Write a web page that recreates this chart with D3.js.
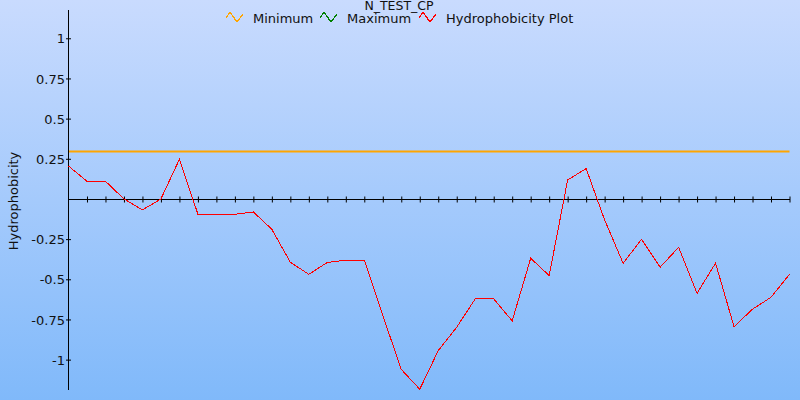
<!DOCTYPE html>
<html>
<head>
<meta charset="utf-8">
<script src="https://cdn.jsdelivr.net/npm/d3@7"></script>
<style>
  html, body { margin: 0; padding: 0; }
  svg { display: block; font-family: "DejaVu Sans", Verdana, sans-serif; }
</style>
</head>
<body>
<svg id="chart" width="800" height="400"></svg>
<script>
// ---- data ----
const title = "N_TEST_CP";
const yLabel = "Hydrophobicity";
const seriesNames = ["Minimum", "Maximum", "Hydrophobicity Plot"];
const seriesColors = ["#ffa500", "#008000", "#ff0000"];
const minimumValue = 0.3;
const hydrophobicity = [
  0.205, 0.110, 0.110, 0.000, -0.068, 0.000, 0.247, -0.095, -0.095, -0.095,
  -0.081, -0.189, -0.394, -0.469, -0.395, -0.381, -0.381, -0.725, -1.061, -1.184,
  -0.944, -0.798, -0.622, -0.622, -0.759, -0.369, -0.477, 0.118, 0.189, -0.131,
  -0.400, -0.251, -0.425, -0.301, -0.587, -0.400, -0.795, -0.686, -0.612, -0.469
];
const yTickValues = [1, 0.75, 0.5, 0.25, -0.25, -0.5, -0.75, -1];
const yTickLabels = ["1", "0.75", "0.5", "0.25", "-0.25", "-0.5", "-0.75", "-1"];
const yDomain = [-1.189, 1.176];

// ---- layout ----
const W = 800, H = 400;
const plot = { left: 68.5, right: 789.5, top: 10, bottom: 390 };

const svg = d3.select("#chart");

const defs = svg.append("defs");
const grad = defs.append("linearGradient").attr("id", "bg")
  .attr("x1", 0).attr("y1", 0).attr("x2", 0).attr("y2", 1);
grad.append("stop").attr("offset", "0%").attr("stop-color", "#c9dbfe");
grad.append("stop").attr("offset", "100%").attr("stop-color", "#80b9fa");
svg.append("rect").attr("width", W).attr("height", H).attr("fill", "url(#bg)");

const x = d3.scaleLinear().domain([0, hydrophobicity.length - 1]).range([plot.left, plot.right]);
const y = d3.scaleLinear().domain(yDomain).range([plot.bottom, plot.top]);
const y0 = Math.round(y(0)) + 0.5;

// minimum line
const yMin = Math.round(y(minimumValue));
svg.append("rect")
  .attr("x", x(0)).attr("width", x(hydrophobicity.length - 1) - x(0))
  .attr("y", yMin - 0.5).attr("height", 2)
  .attr("fill", seriesColors[0]);

// x axis along zero
const xAxis = d3.axisBottom(x)
  .tickValues(d3.range(1, hydrophobicity.length))
  .tickSize(0).tickFormat("");
const gx = svg.append("g").attr("transform", `translate(0,${y0})`).call(xAxis);
gx.select(".domain").remove();
gx.append("line").attr("x1", plot.left).attr("x2", plot.right + 0.5)
  .attr("stroke", "#000").attr("stroke-width", 1);
gx.selectAll(".tick line").attr("y1", -3).attr("y2", 3).attr("stroke", "#000");

// y axis
const yAxis = d3.axisLeft(y).tickValues(yTickValues)
  .tickFormat((d, i) => yTickLabels[i]).tickSize(0);
const gy = svg.append("g").attr("transform", `translate(${plot.left},0)`).call(yAxis);
gy.select(".domain").remove();
gy.append("line").attr("x1", 0).attr("x2", 0).attr("y1", plot.top).attr("y2", plot.bottom)
  .attr("stroke", "#000");
gy.selectAll(".tick line").attr("x1", -2.5).attr("x2", 2.5).attr("stroke", "#000");
gy.selectAll(".tick text")
  .attr("x", -3.5).attr("dy", "0.35em")
  .attr("font-size", 13).attr("font-family", "DejaVu Sans, Verdana, sans-serif")
  .attr("fill", "#111");

// hydrophobicity line
const line = d3.line().x((d, i) => x(i)).y(d => y(d));
svg.append("path").datum(hydrophobicity)
  .attr("d", line).attr("fill", "none")
  .attr("stroke", seriesColors[2]).attr("stroke-width", 1)
  .attr("shape-rendering", "crispEdges");

// y label
svg.append("text")
  .attr("transform", `translate(17.5,${(plot.top + plot.bottom) / 2 + 1}) rotate(-90)`)
  .attr("text-anchor", "middle").attr("font-size", 13).attr("fill", "#111")
  .text(yLabel);

// title
svg.append("text").attr("x", 399).attr("y", 9.5)
  .attr("text-anchor", "middle").attr("font-size", 12.5).attr("fill", "#111")
  .text(title);

// legend
const legendX = [226, 320, 419];
const icon = [[0, 6], [4, 0], [11, 10], [17, 2]];
const lg = svg.append("g");
seriesNames.forEach((name, i) => {
  const g = lg.append("g").attr("transform", `translate(${legendX[i]},12)`);
  g.append("polyline")
    .attr("points", icon.map(p => p.join(",")).join(" "))
    .attr("fill", "none").attr("stroke", seriesColors[i]).attr("stroke-width", 1.2)
    .attr("shape-rendering", "crispEdges");
  g.append("text").attr("x", 27).attr("y", 11)
    .attr("font-size", 13).attr("fill", "#111").text(name);
});
</script>
</body>
</html>
